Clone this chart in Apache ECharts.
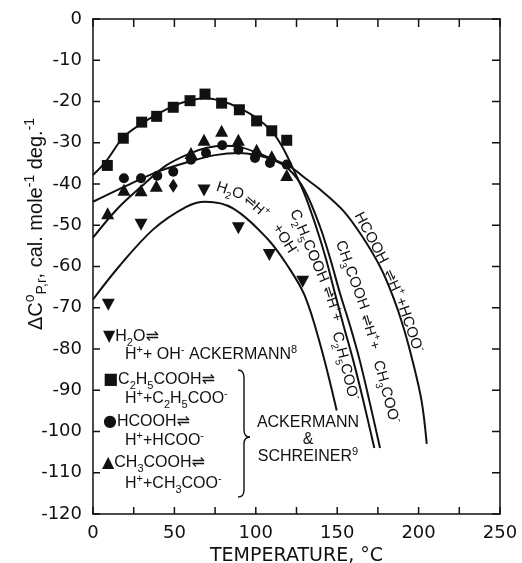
<!DOCTYPE html>
<html>
<head>
<meta charset="utf-8">
<script src="https://cdn.jsdelivr.net/npm/echarts@6/dist/echarts.min.js"></script>
<style>
html,body{margin:0;padding:0;background:#fff;}
#chart{width:522px;height:563px;}
</style>
</head>
<body>
<div id="chart"></div>
<script>
// ---- data ----
const xLabels = [0, 50, 100, 150, 200, 250];
const xTickVals = [0, 25, 50, 75, 100, 125, 150, 175, 200, 225, 250];
const yTickVals = [0, -10, -20, -30, -40, -50, -60, -70, -80, -90, -100, -110, -120];

// measured points
const h2oPts = [[9.4,-69.3],[29.5,-49.9],[68.2,-41.6],[89.3,-50.7],[108.3,-57.2],[128.8,-63.7]];
const c2h5Pts = [[8.8,-35.5],[18.6,-28.9],[29.9,-25.0],[39.1,-23.6],[49.3,-21.4],[59.6,-19.8],[68.8,-18.2],[79.0,-20.4],[89.9,-22.0],[100.5,-24.7],[109.8,-27.1],[119,-29.4]];
const hcoohPts = [[19,-38.6],[29.5,-38.6],[39.5,-38.0],[49.3,-37.0],[60.2,-34.1],[69.4,-32.5],[79.4,-30.6],[89.3,-31.7],[99.5,-33.7],[108.7,-34.9],[119,-35.3]];
const ch3Pts = [[9,-47.1],[19,-41.4],[29.5,-41.5],[38.9,-40.4],[60.2,-32.5],[68.2,-29.3],[79,-27.1],[89.3,-29.3],[100.5,-31.7],[109.8,-33.3],[119,-37.8]];
const diamondPts = [[49.3,-40.4]];

// fitted curves
const h2oCurve = [[0,-68],[16,-60],[37,-51],[57,-45.6],[69,-44.3],[86,-45.9],[107,-53.2],[119,-59.5],[130,-67],[140,-79.5],[149.7,-94.9]];
const c2h5Curve = [[0,-37.8],[8,-34.5],[18.6,-28.7],[30,-25.3],[40,-23],[50,-21],[60,-19.7],[69,-19.2],[80,-20],[90,-21.6],[100.5,-24],[110,-27.3],[116,-30.8],[122,-35.5],[130,-42.5],[137,-50.3],[143,-58],[148.6,-66.5],[154,-74.5],[160,-83],[166,-92.5],[172.8,-104]];
const ch3Curve = [[0,-53],[15,-46],[30,-40.5],[45,-35.5],[60,-32.5],[70,-31.2],[80,-30.7],[90,-31],[100,-32.3],[110,-34],[120,-36.3],[130,-41.5],[139.4,-50.3],[146,-58.5],[151.7,-66.5],[158,-74.5],[164,-83],[170,-93],[176.3,-104]];
const hcoohCurve = [[0,-44.3],[20,-40.5],[40,-37],[60,-34.5],[75,-33],[90,-32.5],[100,-33],[110,-34],[121,-35.8],[130,-38.5],[140,-41.5],[153.8,-46.5],[165,-52.5],[176.3,-60],[184,-67],[190.6,-74.6],[197,-84],[202,-93],[205,-103]];

// ---- rendering ----
const FONT = '"Liberation Sans", Arial, "DejaVu Sans", sans-serif';
const NUMFONT = '"DejaVu Sans", sans-serif';
const INK = '#111';
const chart = echarts.init(document.getElementById('chart'));

function rich(fs, fam) {
  const f = fam || FONT;
  const sf = Math.round(fs * 0.68);
  return {
    n: {fontSize: fs, lineHeight: fs + 6, fontFamily: f, color: INK},
    s: {fontSize: sf, lineHeight: sf + 4, verticalAlign: 'bottom', fontFamily: f, color: INK},
    u: {fontSize: sf, lineHeight: sf + 4, verticalAlign: 'top', fontFamily: f, color: INK},
    m: {fontSize: fs, lineHeight: fs + 6, fontFamily: '"DejaVu Sans", sans-serif', color: INK}
  };
}
function txt(x, y, text, fs, rotDeg, align, fam) {
  return {
    type: 'text', x: x, y: y, rotation: (rotDeg || 0) * Math.PI / 180,
    style: {text: text, rich: rich(fs, fam), align: align || 'center', verticalAlign: 'middle', fill: INK},
    z: 100
  };
}
function seg(x1, y1, x2, y2, w) {
  return {type: 'line', z: 100, shape: {x1: x1, y1: y1, x2: x2, y2: y2},
    style: {stroke: INK, lineWidth: w || 1.4}};
}
function bez(x1, y1, cx, cy, x2, y2) {
  return {type: 'bezierCurve', z: 100, shape: {x1: x1, y1: y1, cpx1: cx, cpy1: cy, x2: x2, y2: y2},
    style: {stroke: INK, lineWidth: 1.4, fill: null}};
}

const graphics = [
  // y axis name
  txt(36, 224, '{n|ΔC}{u|o}{s|P,r}{n|, cal. mole}{u|-1}{n| deg.}{u|-1}', 20, 90),
  // curve labels: H2O
  txt(230, 191, '{n|H}{s|2}{n|O}', 15, -18),
  txt(256, 207, '{m|⇌}{n|H}{u|+}', 14, -42),
  txt(285, 240, '{n|+OH}{u|-}', 15, -58),
  // C2H5COOH
  txt(309, 246, '{n|C}{s|2}{n|H}{s|5}{n|COOH}', 15, -67),
  txt(332, 304, '{m|⇌}{n|H}{u|+}{n|+}', 14, -72),
  txt(345, 366, '{n|C}{s|2}{n|H}{s|5}{n|COO}{u|-}', 15, -76),
  // CH3COOH
  txt(352, 275, '{n|CH}{s|3}{n|COOH}', 15, -70),
  txt(370, 332, '{m|⇌}{n|H}{u|+}{n|+}', 14, -73),
  txt(386, 392, '{n|CH}{s|3}{n|COO}{u|-}', 15, -75),
  // HCOOH
  txt(371, 238, '{n|HCOOH}', 15, -62),
  txt(393, 283, '{m|⇌}{n|H}{u|+}', 14, -66),
  txt(409, 325, '{n|+HCOO}{u|-}', 15, -71),
  // legend block
  txt(103, 337, '{m|▼}{n|H}{s|2}{n|O}{m|⇌}', 16, 0, 'left'),
  txt(125, 355, '{n|H}{u|+}{n|+ OH}{u|-}{n| ACKERMANN}{u|8}', 16, 0, 'left'),
  txt(103, 380, '{m|■}{n|C}{s|2}{n|H}{s|5}{n|COOH}{m|⇌}', 16, 0, 'left'),
  txt(125, 399, '{n|H}{u|+}{n|+C}{s|2}{n|H}{s|5}{n|COO}{u|-}', 16, 0, 'left'),
  txt(103, 422, '{m|●}{n|HCOOH}{m|⇌}', 16, 0, 'left'),
  txt(125, 441, '{n|H}{u|+}{n|+HCOO}{u|-}', 16, 0, 'left'),
  txt(102, 463, '{m|▲}{n|CH}{s|3}{n|COOH}{m|⇌}', 16, 0, 'left'),
  txt(125, 484, '{n|H}{u|+}{n|+CH}{s|3}{n|COO}{u|-}', 16, 0, 'left'),
  txt(308, 423, '{n|ACKERMANN}', 16, 0),
  txt(308, 440, '{n|&}', 16, 0),
  txt(308, 457, '{n|SCHREINER}{u|9}', 16, 0),
  // brace
  bez(238, 370, 244, 370, 244, 378),
  seg(244, 378, 244, 430),
  bez(244, 430, 244, 437, 250, 437),
  bez(250, 437, 244, 437, 244, 444),
  seg(244, 444, 244, 490),
  bez(244, 490, 244, 497, 238, 497)
];

function curve(data) {
  return {type: 'line', data: data, smooth: 0.35, showSymbol: false, symbol: 'none',
    lineStyle: {color: INK, width: 2}, silent: true, z: 2};
}
function pts(data, symbol, size, rot) {
  return {type: 'scatter', data: data, symbol: symbol, symbolSize: size, symbolRotate: rot || 0,
    itemStyle: {color: INK, opacity: 1}, z: 3, silent: true};
}
// inward tick marks drawn as thin bars placed through the axis scales
function tickMarks(data, size, offset) {
  return {type: 'scatter', data: data, symbol: 'rect', symbolSize: size, symbolOffset: offset,
    itemStyle: {color: INK, opacity: 1}, silent: true, clip: false, z: 5};
}
const xMin = xTickVals[0], xMax = xTickVals[xTickVals.length - 1];
const yMax = yTickVals[0], yMin = yTickVals[yTickVals.length - 1];
const TL = 7;

const axisLine = {show: true, onZero: false, lineStyle: {color: INK, width: 1.5}};

chart.setOption({
  animation: false,
  backgroundColor: '#fff',
  textStyle: {fontFamily: FONT, color: INK},
  grid: {left: 93, right: 22, top: 19, bottom: 49, containLabel: false, outerBoundsMode: 'none'},
  xAxis: [
    {type: 'value', position: 'bottom', min: xMin, max: xMax, interval: 25,
      axisLine: axisLine, axisTick: {show: false}, splitLine: {show: false},
      axisLabel: {show: true, fontSize: 18, margin: 10, color: INK, fontFamily: NUMFONT,
        formatter: v => xLabels.indexOf(v) >= 0 ? String(v) : ''},
      name: 'TEMPERATURE, °C', nameLocation: 'middle', nameGap: 33,
      nameTextStyle: {fontSize: 19, color: INK, fontFamily: NUMFONT}},
    {type: 'value', position: 'top', min: xMin, max: xMax, interval: 25,
      axisLine: axisLine, axisTick: {show: false}, splitLine: {show: false}, axisLabel: {show: false}}
  ],
  yAxis: [
    {type: 'value', position: 'left', min: yMin, max: yMax, interval: 10,
      axisLine: axisLine, axisTick: {show: false}, splitLine: {show: false},
      axisLabel: {show: true, fontSize: 18, margin: 11, color: INK, fontFamily: NUMFONT,
        formatter: v => yTickVals.indexOf(v) >= 0 ? String(v) : ''}},
    {type: 'value', position: 'right', min: yMin, max: yMax, interval: 10,
      axisLine: axisLine, axisTick: {show: false}, splitLine: {show: false}, axisLabel: {show: false}}
  ],
  series: [
    curve(h2oCurve), curve(c2h5Curve), curve(ch3Curve), curve(hcoohCurve),
    pts(h2oPts, 'triangle', [13, 12], 180),
    pts(c2h5Pts, 'rect', 11),
    pts(hcoohPts, 'circle', 10),
    pts(ch3Pts, 'triangle', [13, 12]),
    pts(diamondPts, 'diamond', [9, 14]),
    tickMarks(xTickVals.map(v => [v, yMin]), [1.5, TL], [0, -TL / 2]),
    tickMarks(xTickVals.map(v => [v, yMax]), [1.5, TL + 1], [0, (TL + 1) / 2]),
    tickMarks(yTickVals.map(v => [xMin, v]), [TL, 1.5], [TL / 2, 0]),
    tickMarks(yTickVals.map(v => [xMax, v]), [TL + 1, 1.5], [-(TL + 1) / 2, 0])
  ],
  graphic: graphics
});
</script>
</body>
</html>
